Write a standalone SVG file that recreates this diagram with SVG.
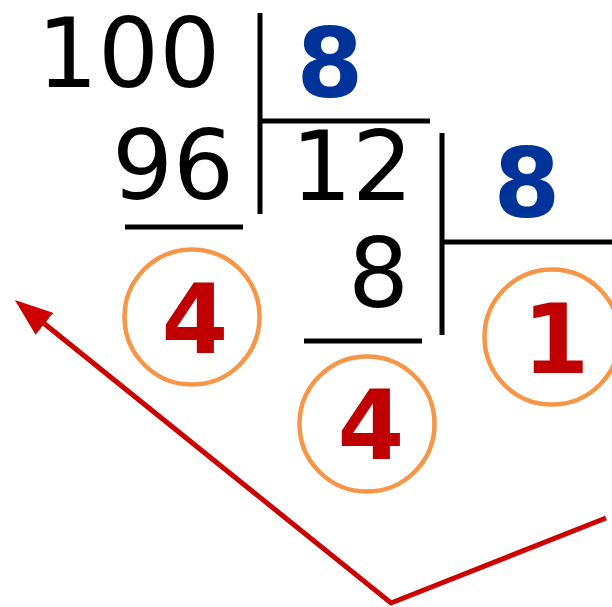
<svg xmlns="http://www.w3.org/2000/svg" width="612" height="607" viewBox="0 0 612 607">
  <style>
    .num { font-family: "DejaVu Sans", Verdana, sans-serif; font-size: 96px; fill: #000000; }
    .blue { font-family: "DejaVu Sans", Verdana, sans-serif; font-size: 96px; font-weight: bold; fill: #003399; text-anchor: middle; }
    .red { font-family: "DejaVu Sans", Verdana, sans-serif; font-size: 96px; font-weight: bold; fill: #C00000; text-anchor: middle; }
    .rule { stroke: #000000; stroke-width: 5; fill: none; }
    .ring { stroke: #F79646; stroke-width: 4.5; fill: none; }
    .arrow { stroke: #CC0000; stroke-width: 5; fill: none; stroke-linejoin: miter; }
  </style>
  <defs>
    <marker id="head" markerUnits="userSpaceOnUse" viewBox="0 0 38 28" markerWidth="38" markerHeight="28" refX="4" refY="14" orient="auto">
      <path d="M0,0 L38,14 L0,28 z" fill="#CC0000"/>
    </marker>
  </defs>
  <rect width="612" height="607" fill="#ffffff"/>
  <g id="dividend"><text class="num" x="37" y="87">100</text></g>
  <g id="product1"><text class="num" x="112" y="199">96</text></g>
  <g id="divisor1"><text class="blue" x="330" y="97">8</text></g>
  <g id="quotient1"><text class="num" x="291" y="200">12</text></g>
  <g id="product2"><text class="num" x="348" y="307">8</text></g>
  <g id="divisor2"><text class="blue" x="527" y="217">8</text></g>
  <g id="remainder1">
    <circle class="ring" cx="192" cy="317" r="67.5"/>
    <text class="red" x="195" y="353">4</text>
  </g>
  <g id="remainder2">
    <circle class="ring" cx="367" cy="424" r="67.5"/>
    <text class="red" x="371" y="459">4</text>
  </g>
  <g id="quotient2">
    <circle class="ring" cx="552" cy="337" r="67.5"/>
    <text class="red" x="556" y="373">1</text>
  </g>
  <g id="connectors">
    <line class="rule" x1="260" y1="13" x2="260" y2="214"/>
    <line class="rule" x1="260" y1="121" x2="430" y2="121"/>
    <line class="rule" x1="125" y1="227" x2="243" y2="227"/>
    <line class="rule" x1="442" y1="133" x2="442" y2="335"/>
    <line class="rule" x1="442" y1="242" x2="612" y2="242"/>
    <line class="rule" x1="304" y1="341" x2="422" y2="341"/>
    <polyline class="arrow" points="606,518 391,603 41.3,321.3" marker-end="url(#head)"/>
  </g>
</svg>
